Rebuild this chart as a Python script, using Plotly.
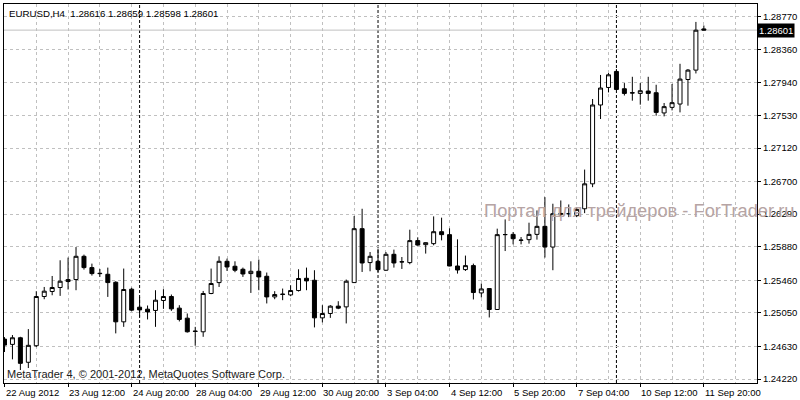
import plotly.graph_objects as go

# ---------------- data (EURUSD H4, bars 22 Aug 2012 04:00 .. 11 Sep 2012 20:00) ----------------
bar_index = list(range(89))

opens = [1.24721, 1.24655, 1.24738, 1.24430, 1.24638, 1.25256, 1.25319, 1.25369, 1.25444, 1.25469,
         1.25761, 1.25619, 1.25548, 1.25535, 1.25435, 1.24938, 1.25348, 1.25122, 1.25097, 1.25081,
         1.25206, 1.25256, 1.25110, 1.24984, 1.24822, 1.24813, 1.25294, 1.25431, 1.25698, 1.25636,
         1.25598, 1.25544, 1.25573, 1.25510, 1.25251, 1.25281, 1.25276, 1.25331, 1.25485, 1.25460,
         1.24988, 1.25043, 1.25135, 1.25126, 1.25431, 1.26108, 1.25682, 1.25698, 1.25586, 1.25786,
         1.25690, 1.25682, 1.25958, 1.25907, 1.25920, 1.26070, 1.26033, 1.25639, 1.25594, 1.25644,
         1.25301, 1.25356, 1.25093, 1.26033, 1.26036, 1.25961, 1.25970, 1.26036, 1.26137, 1.25877,
         1.26299, 1.26296, 1.26271, 1.26358, 1.26671, 1.27661, 1.27881, 1.28082, 1.27865, 1.27815,
         1.27806, 1.27836, 1.27815, 1.27561, 1.27631, 1.27673, 1.27981, 1.28099, 1.28616]

highs = [1.24746, 1.24772, 1.24750, 1.24847, 1.25323, 1.25376, 1.25514, 1.25711, 1.25745, 1.25877,
         1.25782, 1.25669, 1.25602, 1.25619, 1.25448, 1.25607, 1.25366, 1.25251, 1.25143, 1.25335,
         1.25348, 1.25281, 1.25147, 1.25043, 1.24875, 1.25326, 1.25607, 1.25761, 1.25732, 1.25698,
         1.25619, 1.25698, 1.25720, 1.25557, 1.25323, 1.25356, 1.25398, 1.25598, 1.25619, 1.25586,
         1.25147, 1.25147, 1.25197, 1.25469, 1.26266, 1.26358, 1.25815, 1.25857, 1.25815, 1.25845,
         1.25752, 1.26095, 1.25999, 1.25936, 1.26262, 1.26246, 1.26112, 1.25974, 1.25770, 1.25669,
         1.25419, 1.25360, 1.26108, 1.26224, 1.26065, 1.26003, 1.26183, 1.26337, 1.26504, 1.26421,
         1.26462, 1.26412, 1.26378, 1.26850, 1.27736, 1.28038, 1.28062, 1.28112, 1.27936, 1.28015,
         1.27936, 1.28015, 1.27915, 1.27686, 1.27924, 1.28178, 1.28112, 1.28704, 1.28659]

lows = [1.24559, 1.24467, 1.24333, 1.24358, 1.24621, 1.25222, 1.25272, 1.25264, 1.25344, 1.25335,
        1.25594, 1.25519, 1.25502, 1.25251, 1.24793, 1.24875, 1.25072, 1.25001, 1.24968, 1.24875,
        1.25101, 1.25076, 1.24943, 1.24803, 1.24638, 1.24750, 1.25285, 1.25376, 1.25577, 1.25561,
        1.25502, 1.25301, 1.25335, 1.25169, 1.25222, 1.25210, 1.25260, 1.25319, 1.25335, 1.24868,
        1.24931, 1.24988, 1.25097, 1.24918, 1.25429, 1.25564, 1.25573, 1.25564, 1.25577, 1.25619,
        1.25602, 1.25661, 1.25895, 1.25795, 1.25899, 1.25961, 1.25636, 1.25544, 1.25577, 1.25219,
        1.25244, 1.24993, 1.25091, 1.25827, 1.25911, 1.25911, 1.25920, 1.25970, 1.25745, 1.25586,
        1.26262, 1.26253, 1.26253, 1.26303, 1.26629, 1.27485, 1.27819, 1.27849, 1.27780, 1.27715,
        1.27665, 1.27715, 1.27527, 1.27518, 1.27593, 1.27568, 1.27652, 1.28057, 1.28598]

closes = [1.24646, 1.24738, 1.24417, 1.24643, 1.25256, 1.25323, 1.25369, 1.25448, 1.25469, 1.25761,
          1.25619, 1.25544, 1.25544, 1.25431, 1.24938, 1.25344, 1.25085, 1.25088, 1.25063, 1.25210,
          1.25256, 1.25101, 1.24968, 1.24813, 1.24818, 1.25294, 1.25419, 1.25698, 1.25627, 1.25586,
          1.25539, 1.25573, 1.25502, 1.25251, 1.25281, 1.25285, 1.25331, 1.25482, 1.25452, 1.24988,
          1.25043, 1.25135, 1.25110, 1.25448, 1.26108, 1.25677, 1.25761, 1.25594, 1.25786, 1.25677,
          1.25692, 1.25958, 1.25902, 1.25932, 1.26070, 1.26033, 1.25639, 1.25589, 1.25644, 1.25306,
          1.25351, 1.25093, 1.26033, 1.26034, 1.25982, 1.25964, 1.26036, 1.26137, 1.25877, 1.26296,
          1.26291, 1.26296, 1.26350, 1.26671, 1.27661, 1.27874, 1.28040, 1.27856, 1.27806, 1.27812,
          1.27840, 1.27806, 1.27568, 1.27640, 1.27690, 1.27986, 1.28099, 1.28600, 1.28601]

x_label_bars = [0, 8, 16, 24, 32, 40, 48, 56, 64, 72, 80, 88]
x_labels = ["22 Aug 2012", "23 Aug 12:00", "24 Aug 20:00", "28 Aug 04:00", "29 Aug 12:00",
            "30 Aug 20:00", "3 Sep 04:00", "4 Sep 12:00", "5 Sep 20:00", "7 Sep 04:00",
            "10 Sep 12:00", "11 Sep 20:00"]

y_tick_labels = ["1.24220", "1.24630", "1.25050", "1.25460", "1.25880", "1.26290",
                 "1.26700", "1.27120", "1.27530", "1.27940", "1.28360", "1.28770"]

week_start_bars = [17, 47, 77]

symbol = "EURUSD,H4"
last_ohlc = ["1.28616", "1.28659", "1.28598", "1.28601"]
bid_price = 1.28601

# ---------------- figure ----------------
FONT = "Liberation Sans, Arial, sans-serif"
GRID = "#c0c0c0"

fig = go.Figure()
fig.add_trace(go.Candlestick(
    x=bar_index, open=opens, high=highs, low=lows, close=closes,
    increasing=dict(line=dict(color="black", width=1), fillcolor="white"),
    decreasing=dict(line=dict(color="black", width=1), fillcolor="black"),
    whiskerwidth=0, hoverinfo="skip", showlegend=False,
))

shapes = []
for b in week_start_bars:
    shapes.append(dict(type="line", xref="x", yref="paper", x0=b, x1=b, y0=0, y1=1,
                       line=dict(color="black", width=1, dash="3px,2px"), layer="below"))
shapes.append(dict(type="line", xref="paper", yref="y", x0=0, x1=1, y0=bid_price, y1=bid_price,
                   line=dict(color=GRID, width=1), layer="below"))

annotations = []
for b, t in zip(x_label_bars, x_labels):
    annotations.append(dict(x=b, y=0, xref="x", yref="paper", text=t, showarrow=False,
                            xanchor="left", yanchor="top", yshift=-2, xshift=-1,
                            font=dict(family=FONT, size=9.5, color="black")))
annotations.append(dict(x=1, y=bid_price, xref="paper", yref="y", text=f"{bid_price:.5f}",
                        showarrow=False, xanchor="left", yanchor="middle", xshift=0,
                        bgcolor="black", borderpad=1,
                        font=dict(family=FONT, size=9.5, color="white")))
annotations.append(dict(x=0, y=1, xref="paper", yref="paper",
                        text=symbol + "\u00a0 " + " ".join(last_ohlc),
                        showarrow=False, xanchor="left", yanchor="top", xshift=3, yshift=-2,
                        font=dict(family=FONT, size=9.7, color="black")))
annotations.append(dict(x=0, y=0, xref="paper", yref="paper",
                        text="MetaTrader 4, \u00a9 2001-2012, MetaQuotes Software Corp.",
                        showarrow=False, xanchor="left", yanchor="bottom", xshift=1, yshift=1,
                        font=dict(family=FONT, size=11, color="#202020")))
annotations.append(dict(x=1, y=1.2634, xref="paper", yref="y",
                        text="Портал для трейдеров - ForTrader.ru",
                        showarrow=False, xanchor="right", yanchor="middle", xshift=39,
                        font=dict(family=FONT, size=18.3, color="rgb(182,164,164)")))

fig.update_layout(
    width=800, height=400,
    margin=dict(l=3, r=39, t=3, b=17),
    paper_bgcolor="white", plot_bgcolor="white",
    boxgap=0.5, boxgroupgap=0,
    shapes=shapes, annotations=annotations,
    xaxis=dict(
        range=[-0.0625, 94.6875], rangeslider=dict(visible=False),
        tickmode="array", tickvals=x_label_bars, showticklabels=False,
        ticks="outside", ticklen=3, tickcolor="black",
        showgrid=True, gridcolor=GRID, griddash="3px,3px", gridwidth=1,
        minor=dict(tickmode="linear", tick0=0, dtick=4, showgrid=True,
                   gridcolor=GRID, griddash="3px,3px", ticks=""),
        showline=True, linecolor="black", linewidth=1, mirror=True, zeroline=False,
    ),
    yaxis=dict(
        side="right", range=[1.24170, 1.28929],
        tickmode="array", tickvals=[float(v) for v in y_tick_labels], ticktext=y_tick_labels,
        ticks="outside", ticklen=3, tickcolor="black",
        tickfont=dict(family=FONT, size=9.5, color="black"),
        showgrid=True, gridcolor=GRID, griddash="3px,3px", gridwidth=1,
        showline=True, linecolor="black", linewidth=1, mirror=True, zeroline=False,
    ),
)

fig.write_html("out.html", config=dict(displayModeBar=False),
               post_script="document.body.style.margin='0';document.body.style.overflow='hidden';")
